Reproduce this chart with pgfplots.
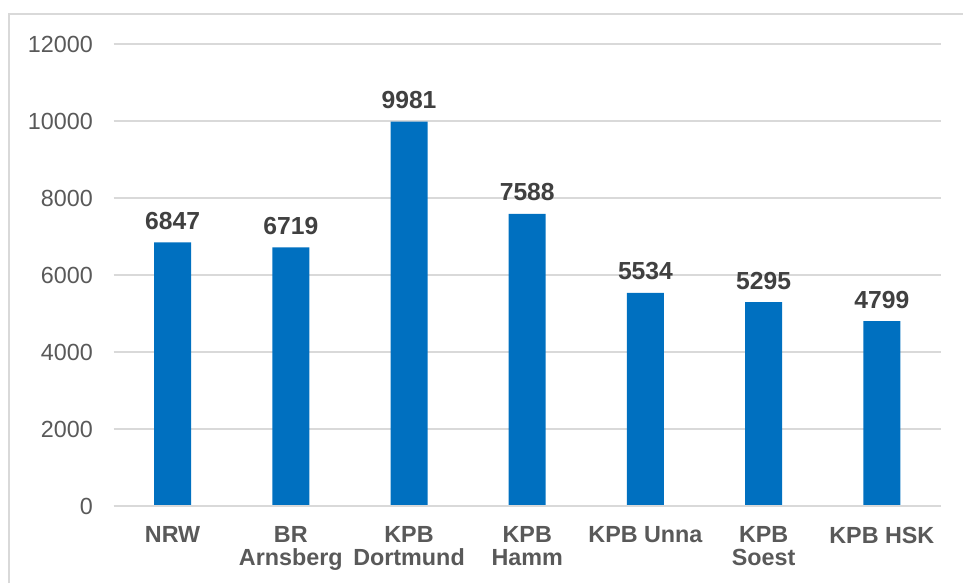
\documentclass[border=0pt]{standalone}
\usepackage{fontspec}
\setmainfont{Liberation Sans}
\usepackage{pgfplots}
\pgfplotsset{compat=1.18}
\definecolor{barblue}{HTML}{0070C0}
\definecolor{gridgray}{HTML}{D9D9D9}
\definecolor{ticktext}{HTML}{595959}
\definecolor{valtext}{HTML}{404040}
\begin{document}
\begin{tikzpicture}[x=0.75pt,y=0.75pt]
\useasboundingbox (0,0) rectangle (963,583);
\draw[gridgray, line width=1.5pt] (9,0) -- (9,569) -- (963,569);
\begin{axis}[
  at={(85.125pt,57.75pt)}, anchor=south west,
  scale only axis, width=620.6pt, height=346.5pt,
  xmin=-0.5, xmax=6.5, ymin=0, ymax=12000,
  ytick={0,2000,...,12000},
  scaled y ticks=false,
  xtick=data,
  xticklabels={NRW, BR\\Arnsberg, KPB\\Dortmund, KPB\\Hamm, KPB Unna, KPB\\Soest, KPB HSK},
  axis line style={draw=none},
  major tick length=0pt,
  ymajorgrids, grid style={gridgray, line width=1.1pt},
  /pgf/number format/1000 sep={},
  /pgf/number format/assume math mode=true,
  yticklabel style={text=ticktext, font=\fontsize{17.5}{17.5}\selectfont, xshift=-12pt},
  xticklabel style={text=ticktext, font=\bfseries\fontsize{17.5}{17.25}\selectfont, align=center, yshift=-12pt},
  ybar, bar width=27.75pt,
  nodes near coords,
  nodes near coords style={text=valtext, font=\bfseries\fontsize{18.5}{18.5}\selectfont, yshift=6pt},
  clip=false,
]
\addplot[fill=barblue, draw=none] coordinates {(0,6847) (1,6719) (2,9981) (3,7588) (4,5534) (5,5295) (6,4799)};
\draw[gridgray, line width=1.1pt] (axis cs:-0.5,0) -- (axis cs:6.5,0);
\end{axis}
\end{tikzpicture}
\end{document}
